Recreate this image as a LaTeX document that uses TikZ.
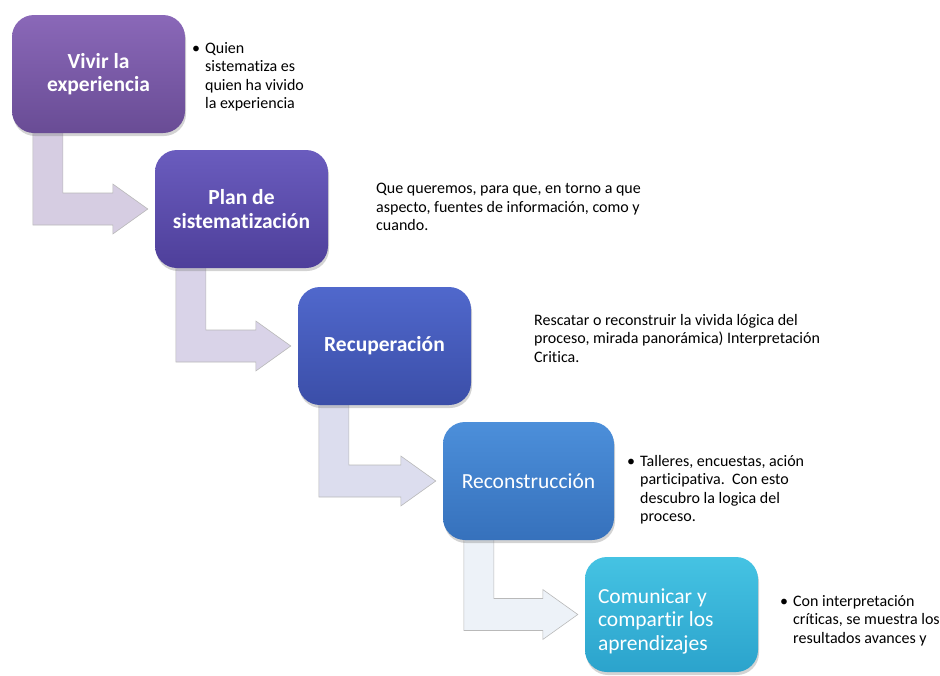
\documentclass[tikz,border=0pt]{standalone}
\usepackage{fontspec}
\setmainfont{Carlito}[Ligatures=NoCommon]
\usetikzlibrary{calc,shadows,backgrounds}

\definecolor{vivirtop}{HTML}{8A68B8}
\definecolor{vivirbot}{HTML}{694C95}
\definecolor{plantop}{HTML}{6A5CBE}
\definecolor{planbot}{HTML}{4E3F9A}
\definecolor{recuptop}{HTML}{5068CC}
\definecolor{recupbot}{HTML}{3B4EA8}
\definecolor{recontop}{HTML}{4C8FDA}
\definecolor{reconbot}{HTML}{3671BC}
\definecolor{comuntop}{HTML}{45C3E3}
\definecolor{comunbot}{HTML}{2BA3CC}
\definecolor{flechaA}{HTML}{D6CDE2}
\definecolor{flechaB}{HTML}{D9D3E8}
\definecolor{flechaC}{HTML}{DCDDEE}
\definecolor{flechaD}{HTML}{EDF2F8}

\tikzset{
  paso/.style={rounded corners=22pt, minimum width=173pt, minimum height=118pt,
    inner sep=6pt, text=white, align=center,
    font=\fontsize{21.5}{23.5}\selectfont,
    drop shadow={opacity=0.35, shadow xshift=1pt, shadow yshift=-3pt}},
  pasobf/.style={paso, font=\bfseries\fontsize{21.5}{23.5}\selectfont},
  nota/.style={anchor=north west, inner sep=0pt, align=left,
    font=\fontsize{16}{18.5}\selectfont},
  flecha/.style={draw=gray!55, line width=0.6pt},
}

% bent arrow from the bottom of one step to the left side of the next
\newcommand\bentarrow[3]{%
  \filldraw[flecha, fill=#3] let \p1=(#1.south west), \p2=(#2.west) in
    (\x1+21pt,\y1+4pt) -- (\x1+51pt,\y1+4pt) -- (\x1+51pt,\y2+16pt)
    -- (\x2-42pt,\y2+16pt) -- (\x2-42pt,\y2+25pt) -- (\x2-7pt,\y2)
    -- (\x2-42pt,\y2-25pt) -- (\x2-42pt,\y2-16pt) -- (\x1+21pt,\y2-16pt)
    -- cycle;
}

\begin{document}
\begin{tikzpicture}[x=1pt,y=-1pt]
  \useasboundingbox (0,0) rectangle (940,675);

  \node[pasobf, top color=vivirtop, bottom color=vivirbot]
    (vivir) at (98.5,74) {Vivir la\\experiencia};
  \node[pasobf, top color=plantop, bottom color=planbot]
    (plan) at (241.5,209) {Plan de\\sistematización};
  \node[pasobf, top color=recuptop, bottom color=recupbot]
    (recup) at (384.5,346) {Recuperación};
  \node[paso, top color=recontop, bottom color=reconbot, minimum width=171pt]
    (recon) at (528.5,481) {Reconstrucción};
  \node[paso, top color=comuntop, bottom color=comunbot, minimum height=115pt,
    text width=147pt, inner xsep=12pt, align=flush left]
    (comun) at (671.5,614.5) {\rule{0pt}{28pt}Comunicar y\\compartir los\\aprendizajes};

  \begin{scope}[on background layer]
    \bentarrow{vivir}{plan}{flechaA}
    \bentarrow{plan}{recup}{flechaB}
    \bentarrow{recup}{recon}{flechaC}
    \bentarrow{recon}{comun}{flechaD}
  \end{scope}

  \node[nota] (vivirnota) at (192,40) {\begin{tabular}{@{}l@{\hspace{5pt}}l@{}}
    \textbullet & Quien\\ & sistematiza es\\ & quien ha vivido\\ & la experiencia\end{tabular}};
  \node[nota] (plannota) at (376,183)
    {Que queremos, para que, en torno a que\\aspecto, fuentes de información, como y\\cuando.};
  \node[nota] (recupnota) at (534,314)
    {Rescatar o reconstruir la vivida lógica del\\proceso, mirada panorámica) Interpretación\\Critica.};
  \node[nota] (reconnota) at (627,453) {\begin{tabular}{@{}l@{\hspace{5pt}}l@{}}
    \textbullet & Talleres, encuestas, ación\\ & participativa.\ \ Con esto\\
    & descubro la logica del\\ & proceso.\end{tabular}};
  \node[nota] (comunnota) at (780,593) {\begin{tabular}{@{}l@{\hspace{5pt}}l@{}}
    \textbullet & Con interpretación\\ & críticas, se muestra los\\
    & resultados avances y\end{tabular}};
\end{tikzpicture}
\end{document}
